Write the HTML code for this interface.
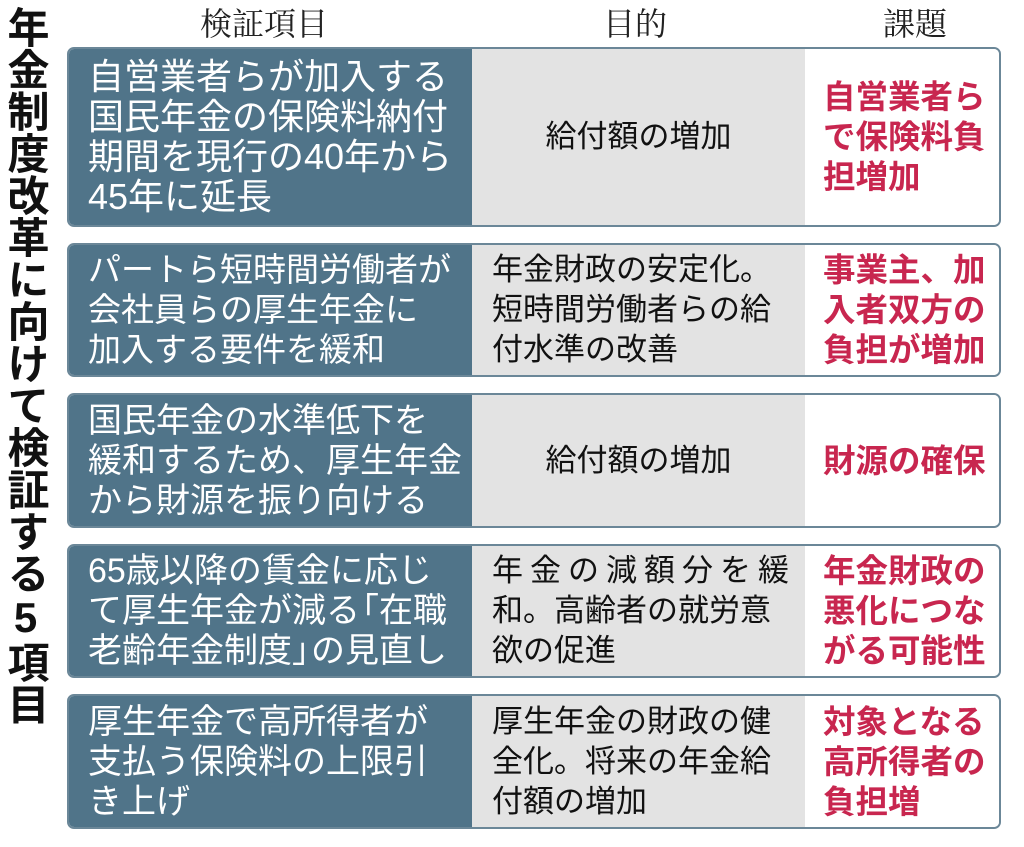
<!DOCTYPE html>
<html><head><meta charset="utf-8"><style>
body{margin:0;width:1024px;height:847px;background:#fff;position:relative;overflow:hidden;font-family:"Liberation Sans","Noto Sans CJK JP",sans-serif}
.title{position:absolute;left:2px;top:6px;writing-mode:vertical-rl;text-orientation:upright;font-size:42px;font-weight:bold;line-height:46px;color:#111;letter-spacing:0}
.h{position:absolute;top:4px;font-family:"Liberation Serif","Noto Serif CJK SC",serif;font-size:32px;color:#222;line-height:40px}
.row{position:absolute;left:67px;width:934px;border:2px solid #6b8798;border-radius:7px;overflow:hidden;display:flex;box-sizing:border-box}
.c1{width:403px;background:#507489;color:#fff;font-size:33px;line-height:40px;padding-left:19px;box-sizing:border-box;display:flex;align-items:center;white-space:nowrap}
.c2{width:333px;background:#e3e3e3;color:#111;font-size:31px;line-height:40px;box-sizing:border-box;display:flex;align-items:center;white-space:nowrap;padding-left:20px}
.c2.ctr{justify-content:center;padding-left:0}
.c3{flex:1;background:#fff;color:#c8264f;font-size:32.5px;font-weight:bold;line-height:40px;box-sizing:border-box;display:flex;align-items:center;padding-left:18px;white-space:nowrap}
.bl{margin-left:-15px}.br{margin-right:-15px}
</style></head><body>
<div class="title">年金制度改革に向けて検証する5項目</div>
<div class="h" style="left:200px">検証項目</div>
<div class="h" style="left:603px">目的</div>
<div class="h" style="left:883px">課題</div>

<div class="row" style="top:47px;height:180px">
<div class="c1" style="font-size:36px"><div>自営業者らが加入する<br>国民年金の保険料納付<br>期間を現行の40年から<br>45年に延長</div></div>
<div class="c2 ctr"><div>給付額の増加</div></div>
<div class="c3"><div>自営業者ら<br>で保険料負<br>担増加</div></div>
</div>

<div class="row" style="top:243px;height:134px">
<div class="c1"><div>パートら短時間労働者が<br>会社員らの厚生年金に<br>加入する要件を緩和</div></div>
<div class="c2"><div>年金財政の安定化。<br>短時間労働者らの給<br>付水準の改善</div></div>
<div class="c3"><div>事業主、加<br>入者双方の<br>負担が増加</div></div>
</div>

<div class="row" style="top:393px;height:135px">
<div class="c1" style="font-size:34px"><div>国民年金の水準低下を<br>緩和するため、厚生年金<br>から財源を振り向ける</div></div>
<div class="c2 ctr"><div>給付額の増加</div></div>
<div class="c3"><div>財源の確保</div></div>
</div>

<div class="row" style="top:544px;height:134px">
<div class="c1" style="font-size:34px"><div>65歳以降の賃金に応じ<br>て厚生年金が減る<span class="bl">「</span>在職<br>老齢年金制度<span class="br">」</span>の見直し</div></div>
<div class="c2"><div><span style="letter-spacing:7px">年金の減額分を緩</span><br>和。高齢者の就労意<br>欲の促進</div></div>
<div class="c3"><div>年金財政の<br>悪化につな<br>がる可能性</div></div>
</div>

<div class="row" style="top:694px;height:135px">
<div class="c1" style="font-size:34px"><div>厚生年金で高所得者が<br>支払う保険料の上限引<br>き上げ</div></div>
<div class="c2"><div>厚生年金の財政の健<br>全化。将来の年金給<br>付額の増加</div></div>
<div class="c3"><div>対象となる<br>高所得者の<br>負担増</div></div>
</div>
</body></html>
